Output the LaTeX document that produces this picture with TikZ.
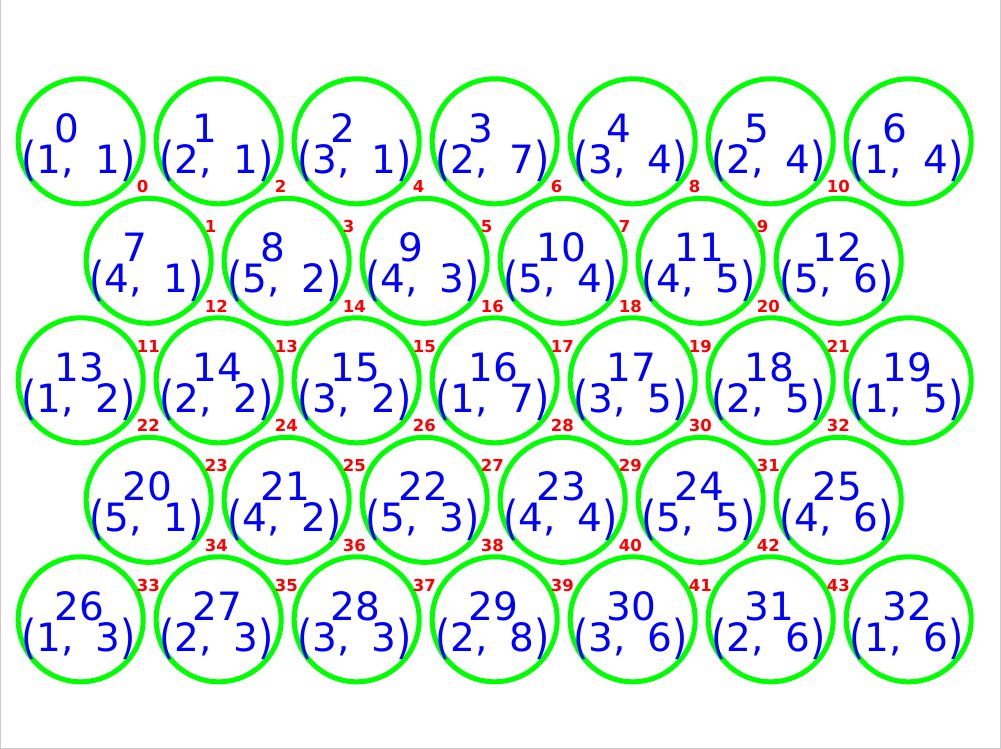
\documentclass[tikz,border=0pt]{standalone}
\usepackage{graphicx}
\usepackage{fontspec}
\newfontfamily\numfont{DejaVu Sans}
\newfontfamily\edgefont{DejaVu Sans Bold}
\definecolor{ringgreen}{RGB}{0,255,0}
\definecolor{txtblue}{RGB}{0,0,255}
\definecolor{lblred}{RGB}{255,0,0}
\definecolor{framegray}{RGB}{204,204,204}
\newcommand\stretchL{\raisebox{-2.3pt}{\scalebox{1}[1.2]{(}}}
\newcommand\stretchR{\raisebox{-2.3pt}{\scalebox{1}[1.2]{)}}}
\tikzset{
  ring/.style={circle, draw=ringgreen, line width=5pt, minimum size=125pt, inner sep=0pt},
  numtxt/.style={text=txtblue, inner sep=0pt, anchor=base west, font=\numfont\fontsize{39}{39}\selectfont},
  edgetxt/.style={text=lblred, inner sep=0pt, anchor=base west, font=\edgefont\fontsize{16.5}{16.5}\selectfont},
}
\def\pa{{1,2,3,2,3,2,1,4,5,4,5,4,5,1,2,3,1,3,2,1,5,4,5,4,5,4,1,2,3,2,3,2,1}}
\def\pb{{1,1,1,7,4,4,4,1,2,3,4,5,6,2,2,2,7,5,5,5,1,2,3,4,5,6,3,3,3,8,6,6,6}}
\begin{document}
\begin{tikzpicture}[x={(1pt,0pt)}, y={(0pt,-1pt)}]
\useasboundingbox (0,0) rectangle (1001,749);
\draw[framegray, line width=1pt] (0.5,0) -- (0.5,748.5) -- (1000,748.5) -- (1000,0);
% circles
\foreach \r/\last/\start/\xs in {0/6/0/80.7, 1/5/7/148.7, 2/6/13/80.7, 3/5/20/148.7, 4/6/26/80.7} {
  \foreach \c in {0,...,\last} {
    \pgfmathtruncatemacro\n{\start+\c}
    \pgfmathsetmacro\cx{\xs+138*\c}
    \pgfmathsetmacro\cy{141.3+119.5*\r}
    \node[ring] (c\n) at (\cx,\cy) {};
  }
}
% texts
\foreach \r/\last/\start/\xs in {0/6/0/80.7, 1/5/7/148.7, 2/6/13/80.7, 3/5/20/148.7, 4/6/26/80.7} {
  \foreach \c in {0,...,\last} {
    \pgfmathtruncatemacro\n{\start+\c}
    \pgfmathtruncatemacro\a{\pa[\n]}
    \pgfmathtruncatemacro\b{\pb[\n]}
    \pgfmathsetmacro\cx{\xs+138*\c}
    \pgfmathsetmacro\cy{141.3+119.5*\r}
    \node[numtxt] (t\n) at (\cx-26.3,\cy+1) {\n};
    \node[numtxt] (p\n) at (\cx-59.7,\cy+32) {\stretchL\a,\kern22pt\b\stretchR};
  }
}
% edge labels
\foreach \p in {0,1,2,3} {
  \pgfmathsetmacro\ysev{141.3+119.5*(\p+mod(\p,2))}
  \pgfmathsetmacro\ysix{141.3+119.5*(\p+1-mod(\p,2))}
  \pgfmathsetmacro\osev{51.5-79.5*mod(\p,2)}
  \pgfmathsetmacro\osix{-28+79.5*mod(\p,2)}
  \foreach \i in {0,...,5} {
    \pgfmathtruncatemacro\k{11*\p+2*\i}
    \node[edgetxt] (e\k) at (80.7+138*\i+56, \ysev+\osev) {\k};
  }
  \foreach \i in {0,...,4} {
    \pgfmathtruncatemacro\k{11*\p+2*\i+1}
    \node[edgetxt] (e\k) at (148.7+138*\i+56, \ysix+\osix) {\k};
  }
}
\end{tikzpicture}
\end{document}
